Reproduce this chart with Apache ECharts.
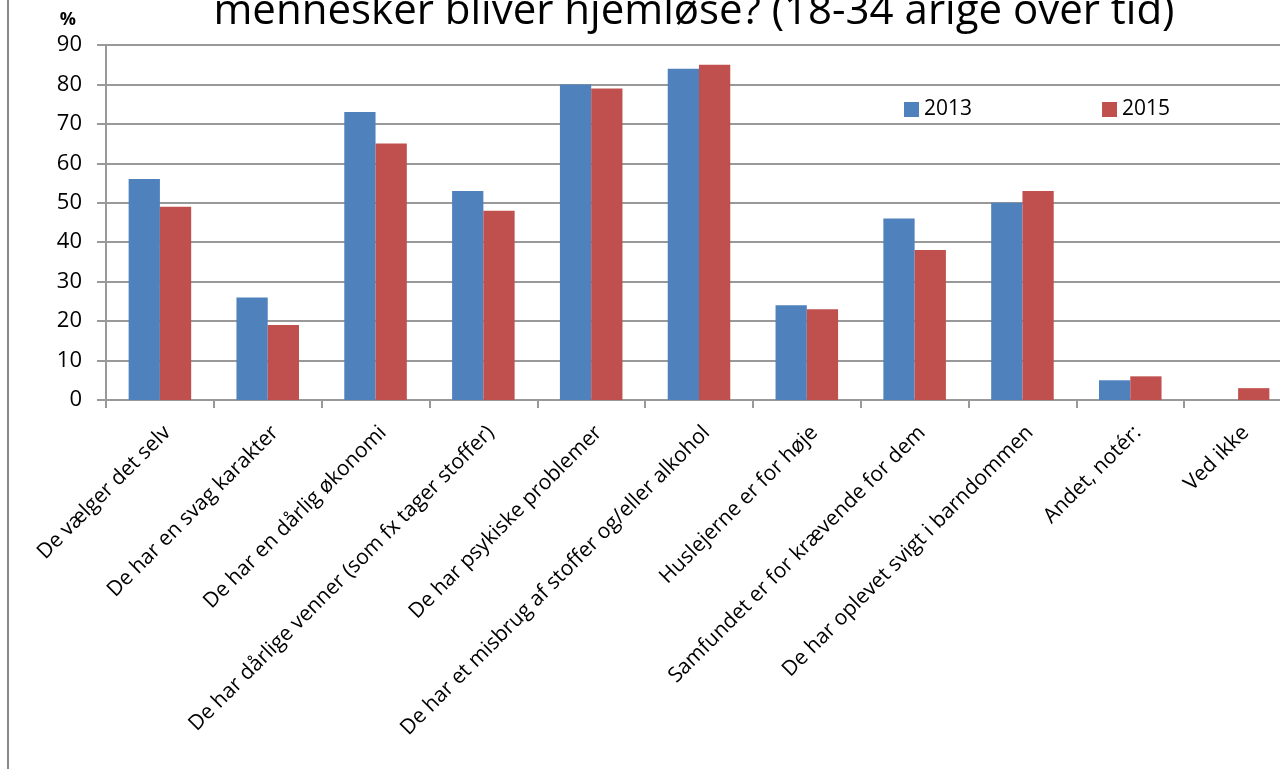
<!DOCTYPE html>
<html>
<head>
<meta charset="utf-8">
<script src="https://cdn.jsdelivr.net/npm/echarts@6/dist/echarts.min.js"></script>
<style>
  html, body { margin: 0; padding: 0; background: #fff; }
  #chart { width: 1280px; height: 769px; }
</style>
</head>
<body>
<div id="chart"></div>
<script>
const categories = [
  'De vælger det selv',
  'De har en svag karakter',
  'De har en dårlig økonomi',
  'De har dårlige venner (som fx tager stoffer)',
  'De har psykiske problemer',
  'De har et misbrug af stoffer og/eller alkohol',
  'Huslejerne er for høje',
  'Samfundet er for krævende for dem',
  'De har oplevet svigt i barndommen',
  'Andet, notér:',
  'Ved ikke'
]
const values2013 = [56, 26, 73, 53, 80, 84, 24, 46, 50, 5, null]
const values2015 = [49, 19, 65, 48, 79, 85, 23, 38, 53, 6, 3]
const yTicks = [0, 90, 10]

const chart = echarts.init(document.getElementById('chart'))
const font = "'Open Sans', 'Liberation Sans', sans-serif"

chart.setOption({
  animation: false,
  textStyle: { fontFamily: font },
  title: {
    text: 'mennesker bliver hjemløse? (18-34 årige over tid)',
    left: 689,
    textAlign: 'center',
    top: -14,
    textStyle: { fontSize: 42, fontWeight: 'normal', color: '#000', fontFamily: font }
  },
  legend: {
    left: 899,
    top: 94,
    itemWidth: 15,
    itemHeight: 15,
    itemGap: 130,
    icon: 'rect',
    textStyle: { fontSize: 21, color: '#000', fontFamily: font },
    data: ['2013', '2015']
  },
  grid: { left: 106, width: 1186, top: 45, height: 355, outerBoundsMode: 'none' },
  xAxis: {
    type: 'category',
    data: categories,
    axisLine: { lineStyle: { color: '#999', width: 2 } },
    axisTick: { show: true, length: 8, lineStyle: { color: '#999', width: 2 } },
    axisLabel: {
      rotate: 45,
      interval: 0,
      fontSize: 21,
      color: '#000',
      margin: 22,
      verticalAlign: 'top',
      fontFamily: font
    }
  },
  yAxis: {
    type: 'value',
    min: yTicks[0],
    max: yTicks[1],
    interval: yTicks[2],
    name: '%',
    nameLocation: 'end',
    nameGap: 16,
    nameTextStyle: { fontSize: 18, fontWeight: 'bold', color: '#000', align: 'right', padding: [0, 30, 0, 0] },
    axisLine: { show: true, lineStyle: { color: '#999', width: 2 } },
    axisTick: { show: true, length: 9, lineStyle: { color: '#999', width: 2 } },
    axisLabel: { fontSize: 22, color: '#000', margin: 24, fontFamily: font },
    splitLine: { lineStyle: { color: '#999', width: 2 } }
  },
  series: [
    {
      name: '2013',
      type: 'bar',
      data: values2013,
      barGap: '0%',
      barCategoryGap: '42%',
      itemStyle: { color: '#4F81BD' }
    },
    {
      name: '2015',
      type: 'bar',
      data: values2015,
      itemStyle: { color: '#C0504D' }
    }
  ],
  graphic: [
    {
      type: 'line',
      shape: { x1: 8, y1: 0, x2: 8, y2: 769 },
      style: { stroke: '#888', lineWidth: 2 }
    }
  ]
})
</script>
</body>
</html>
